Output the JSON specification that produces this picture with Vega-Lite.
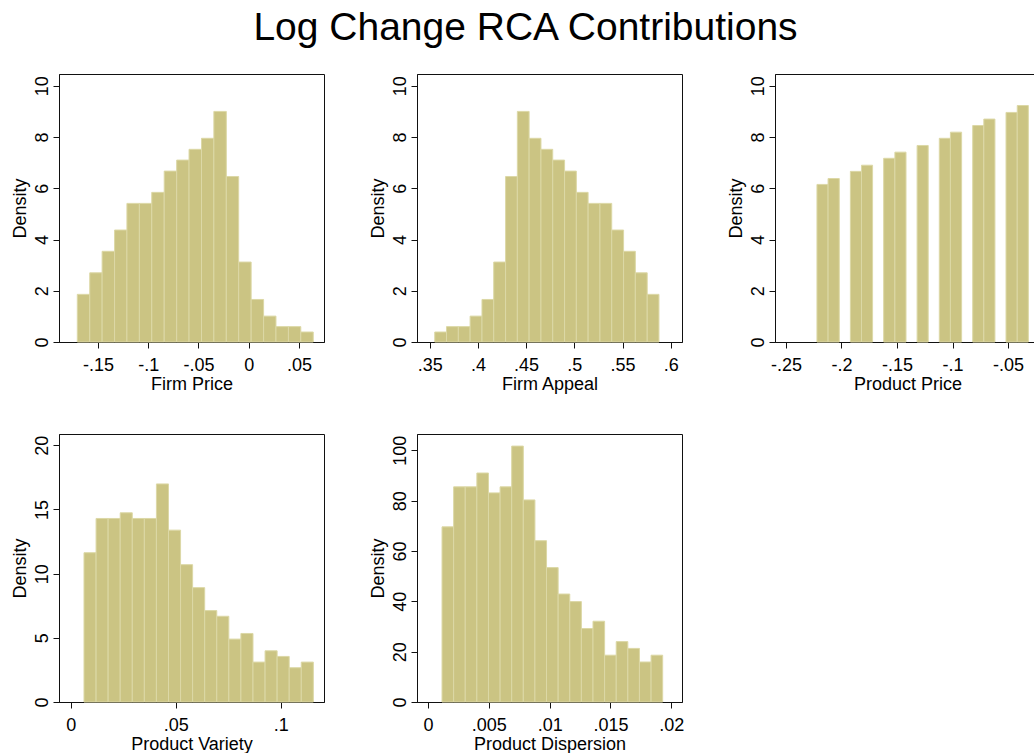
{
  "$schema": "https://vega.github.io/schema/vega-lite/v6.json",
  "background": "white",
  "padding": {"left": 10, "top": 8, "right": 0, "bottom": 0},
  "title": {
    "text": "Log Change RCA Contributions",
    "fontSize": 39,
    "font": "Liberation Sans",
    "fontWeight": "normal",
    "color": "black",
    "anchor": "middle",
    "offset": 26
  },
  "config": {
    "font": "Liberation Sans",
    "view": {"stroke": "#111111", "strokeWidth": 1},
    "axis": {
      "grid": false,
      "domainColor": "#111111",
      "tickColor": "#111111",
      "tickSize": 6,
      "labelFontSize": 18,
      "titleFontSize": 18,
      "labelColor": "black",
      "titleColor": "black",
      "labelFont": "Liberation Sans",
      "titleFont": "Liberation Sans",
      "titleFontWeight": "normal"
    },
    "axisX": {"labelPadding": 8, "titlePadding": 1},
    "axisY": {"labelAngle": -90},
    "bar": {"fill": "#CBC483", "stroke": "#DCD8A6", "strokeWidth": 1}
  },
  "datasets": {
    "firm_price": [
      {"bin_start": -0.1706, "bin_end": -0.1582, "density": 1.86},
      {"bin_start": -0.1582, "bin_end": -0.1459, "density": 2.70},
      {"bin_start": -0.1459, "bin_end": -0.1335, "density": 3.54},
      {"bin_start": -0.1335, "bin_end": -0.1212, "density": 4.37},
      {"bin_start": -0.1212, "bin_end": -0.1088, "density": 5.41},
      {"bin_start": -0.1088, "bin_end": -0.0965, "density": 5.41},
      {"bin_start": -0.0965, "bin_end": -0.0841, "density": 5.84},
      {"bin_start": -0.0841, "bin_end": -0.0717, "density": 6.67},
      {"bin_start": -0.0717, "bin_end": -0.0594, "density": 7.10},
      {"bin_start": -0.0594, "bin_end": -0.0470, "density": 7.52},
      {"bin_start": -0.0470, "bin_end": -0.0347, "density": 7.95},
      {"bin_start": -0.0347, "bin_end": -0.0223, "density": 9.00},
      {"bin_start": -0.0223, "bin_end": -0.0100, "density": 6.46},
      {"bin_start": -0.0100, "bin_end": 0.0024, "density": 3.12},
      {"bin_start": 0.0024, "bin_end": 0.0148, "density": 1.66},
      {"bin_start": 0.0148, "bin_end": 0.0271, "density": 1.01},
      {"bin_start": 0.0271, "bin_end": 0.0395, "density": 0.60},
      {"bin_start": 0.0395, "bin_end": 0.0518, "density": 0.60},
      {"bin_start": 0.0518, "bin_end": 0.0642, "density": 0.39}
    ],
    "firm_appeal": [
      {"bin_start": 0.3552, "bin_end": 0.3674, "density": 0.39},
      {"bin_start": 0.3674, "bin_end": 0.3797, "density": 0.60},
      {"bin_start": 0.3797, "bin_end": 0.3919, "density": 0.60},
      {"bin_start": 0.3919, "bin_end": 0.4042, "density": 1.01},
      {"bin_start": 0.4042, "bin_end": 0.4164, "density": 1.66},
      {"bin_start": 0.4164, "bin_end": 0.4287, "density": 3.12},
      {"bin_start": 0.4287, "bin_end": 0.4409, "density": 6.46},
      {"bin_start": 0.4409, "bin_end": 0.4531, "density": 9.00},
      {"bin_start": 0.4531, "bin_end": 0.4654, "density": 7.95},
      {"bin_start": 0.4654, "bin_end": 0.4776, "density": 7.52},
      {"bin_start": 0.4776, "bin_end": 0.4899, "density": 7.10},
      {"bin_start": 0.4899, "bin_end": 0.5021, "density": 6.67},
      {"bin_start": 0.5021, "bin_end": 0.5143, "density": 5.84},
      {"bin_start": 0.5143, "bin_end": 0.5266, "density": 5.41},
      {"bin_start": 0.5266, "bin_end": 0.5388, "density": 5.41},
      {"bin_start": 0.5388, "bin_end": 0.5511, "density": 4.37},
      {"bin_start": 0.5511, "bin_end": 0.5633, "density": 3.54},
      {"bin_start": 0.5633, "bin_end": 0.5756, "density": 2.70},
      {"bin_start": 0.5756, "bin_end": 0.5878, "density": 1.86}
    ],
    "product_price": [
      {"bin_start": -0.2221, "bin_end": -0.2121, "density": 6.15},
      {"bin_start": -0.2121, "bin_end": -0.2020, "density": 6.38},
      {"bin_start": -0.1920, "bin_end": -0.1820, "density": 6.66},
      {"bin_start": -0.1820, "bin_end": -0.1720, "density": 6.90},
      {"bin_start": -0.1620, "bin_end": -0.1519, "density": 7.17},
      {"bin_start": -0.1519, "bin_end": -0.1419, "density": 7.41},
      {"bin_start": -0.1319, "bin_end": -0.1219, "density": 7.67},
      {"bin_start": -0.1119, "bin_end": -0.1019, "density": 7.95},
      {"bin_start": -0.1019, "bin_end": -0.0918, "density": 8.19},
      {"bin_start": -0.0818, "bin_end": -0.0718, "density": 8.45},
      {"bin_start": -0.0718, "bin_end": -0.0618, "density": 8.70},
      {"bin_start": -0.0518, "bin_end": -0.0417, "density": 8.96},
      {"bin_start": -0.0417, "bin_end": -0.0317, "density": 9.23}
    ],
    "product_variety": [
      {"bin_start": 0.00633, "bin_end": 0.01208, "density": 11.63},
      {"bin_start": 0.01208, "bin_end": 0.01782, "density": 14.30},
      {"bin_start": 0.01782, "bin_end": 0.02357, "density": 14.30},
      {"bin_start": 0.02357, "bin_end": 0.02932, "density": 14.74},
      {"bin_start": 0.02932, "bin_end": 0.03507, "density": 14.30},
      {"bin_start": 0.03507, "bin_end": 0.04081, "density": 14.30},
      {"bin_start": 0.04081, "bin_end": 0.04656, "density": 16.99},
      {"bin_start": 0.04656, "bin_end": 0.05231, "density": 13.39},
      {"bin_start": 0.05231, "bin_end": 0.05805, "density": 10.70},
      {"bin_start": 0.05805, "bin_end": 0.06380, "density": 8.91},
      {"bin_start": 0.06380, "bin_end": 0.06955, "density": 7.12},
      {"bin_start": 0.06955, "bin_end": 0.07529, "density": 6.68},
      {"bin_start": 0.07529, "bin_end": 0.08104, "density": 4.90},
      {"bin_start": 0.08104, "bin_end": 0.08679, "density": 5.34},
      {"bin_start": 0.08679, "bin_end": 0.09254, "density": 3.11},
      {"bin_start": 0.09254, "bin_end": 0.09828, "density": 3.99},
      {"bin_start": 0.09828, "bin_end": 0.10403, "density": 3.55},
      {"bin_start": 0.10403, "bin_end": 0.10978, "density": 2.67},
      {"bin_start": 0.10978, "bin_end": 0.11552, "density": 3.11}
    ],
    "product_dispersion": [
      {"bin_start": 0.001152, "bin_end": 0.002107, "density": 69.6},
      {"bin_start": 0.002107, "bin_end": 0.003062, "density": 85.5},
      {"bin_start": 0.003062, "bin_end": 0.004016, "density": 85.5},
      {"bin_start": 0.004016, "bin_end": 0.004971, "density": 91.0},
      {"bin_start": 0.004971, "bin_end": 0.005926, "density": 83.1},
      {"bin_start": 0.005926, "bin_end": 0.006880, "density": 85.5},
      {"bin_start": 0.006880, "bin_end": 0.007835, "density": 101.7},
      {"bin_start": 0.007835, "bin_end": 0.008790, "density": 80.3},
      {"bin_start": 0.008790, "bin_end": 0.009744, "density": 64.1},
      {"bin_start": 0.009744, "bin_end": 0.010699, "density": 53.4},
      {"bin_start": 0.010699, "bin_end": 0.011654, "density": 42.9},
      {"bin_start": 0.011654, "bin_end": 0.012608, "density": 39.9},
      {"bin_start": 0.012608, "bin_end": 0.013563, "density": 29.2},
      {"bin_start": 0.013563, "bin_end": 0.014518, "density": 32.1},
      {"bin_start": 0.014518, "bin_end": 0.015473, "density": 18.6},
      {"bin_start": 0.015473, "bin_end": 0.016427, "density": 24.0},
      {"bin_start": 0.016427, "bin_end": 0.017382, "density": 21.3},
      {"bin_start": 0.017382, "bin_end": 0.018337, "density": 15.9},
      {"bin_start": 0.018337, "bin_end": 0.019292, "density": 18.6}
    ]
  },
  "columns": 3,
  "spacing": {"row": 92, "column": 93},
  "bounds": "flush",
  "concat": [
    {
      "width": 265,
      "height": 268,
      "data": {"name": "firm_price"},
      "mark": "bar",
      "encoding": {
        "x": {
          "field": "bin_start",
          "type": "quantitative",
          "scale": {"domain": [-0.1888, 0.0749], "nice": false, "zero": false},
          "axis": {"values": [-0.15, -0.1, -0.05, 0, 0.05], "labelExpr": "replace(toString(datum.value), '0.', '.')", "title": "Firm Price"}
        },
        "x2": {"field": "bin_end"},
        "y": {
          "field": "density",
          "type": "quantitative",
          "scale": {"domain": [0, 10.46], "nice": false},
          "axis": {"values": [0, 2, 4, 6, 8, 10], "title": "Density"}
        },
        "y2": {"datum": 0}
      }
    },
    {
      "width": 265,
      "height": 268,
      "data": {"name": "firm_appeal"},
      "mark": "bar",
      "encoding": {
        "x": {
          "field": "bin_start",
          "type": "quantitative",
          "scale": {"domain": [0.3368, 0.6117], "nice": false, "zero": false},
          "axis": {"values": [0.35, 0.4, 0.45, 0.5, 0.55, 0.6], "labelExpr": "replace(toString(datum.value), '0.', '.')", "title": "Firm Appeal"}
        },
        "x2": {"field": "bin_end"},
        "y": {
          "field": "density",
          "type": "quantitative",
          "scale": {"domain": [0, 10.46], "nice": false},
          "axis": {"values": [0, 2, 4, 6, 8, 10], "title": "Density"}
        },
        "y2": {"datum": 0}
      }
    },
    {
      "width": 265,
      "height": 268,
      "data": {"name": "product_price"},
      "mark": "bar",
      "encoding": {
        "x": {
          "field": "bin_start",
          "type": "quantitative",
          "scale": {"domain": [-0.2599, -0.0212], "nice": false, "zero": false},
          "axis": {"values": [-0.25, -0.2, -0.15, -0.1, -0.05], "labelExpr": "replace(toString(datum.value), '0.', '.')", "title": "Product Price"}
        },
        "x2": {"field": "bin_end"},
        "y": {
          "field": "density",
          "type": "quantitative",
          "scale": {"domain": [0, 10.46], "nice": false},
          "axis": {"values": [0, 2, 4, 6, 8, 10], "title": "Density"}
        },
        "y2": {"datum": 0}
      }
    },
    {
      "width": 265,
      "height": 268,
      "data": {"name": "product_variety"},
      "mark": "bar",
      "encoding": {
        "x": {
          "field": "bin_start",
          "type": "quantitative",
          "scale": {"domain": [-0.00557, 0.1206], "nice": false, "zero": false},
          "axis": {"values": [0, 0.05, 0.1], "labelExpr": "replace(toString(datum.value), '0.', '.')", "title": "Product Variety"}
        },
        "x2": {"field": "bin_end"},
        "y": {
          "field": "density",
          "type": "quantitative",
          "scale": {"domain": [0, 20.88], "nice": false},
          "axis": {"values": [0, 5, 10, 15, 20], "title": "Density"}
        },
        "y2": {"datum": 0}
      }
    },
    {
      "width": 265,
      "height": 268,
      "data": {"name": "product_dispersion"},
      "mark": "bar",
      "encoding": {
        "x": {
          "field": "bin_start",
          "type": "quantitative",
          "scale": {"domain": [-0.000905, 0.02088], "nice": false, "zero": false},
          "axis": {"values": [0, 0.005, 0.01, 0.015, 0.02], "labelExpr": "replace(toString(datum.value), '0.', '.')", "title": "Product Dispersion"}
        },
        "x2": {"field": "bin_end"},
        "y": {
          "field": "density",
          "type": "quantitative",
          "scale": {"domain": [0, 106.5], "nice": false},
          "axis": {"values": [0, 20, 40, 60, 80, 100], "title": "Density"}
        },
        "y2": {"datum": 0}
      }
    }
  ]
}
